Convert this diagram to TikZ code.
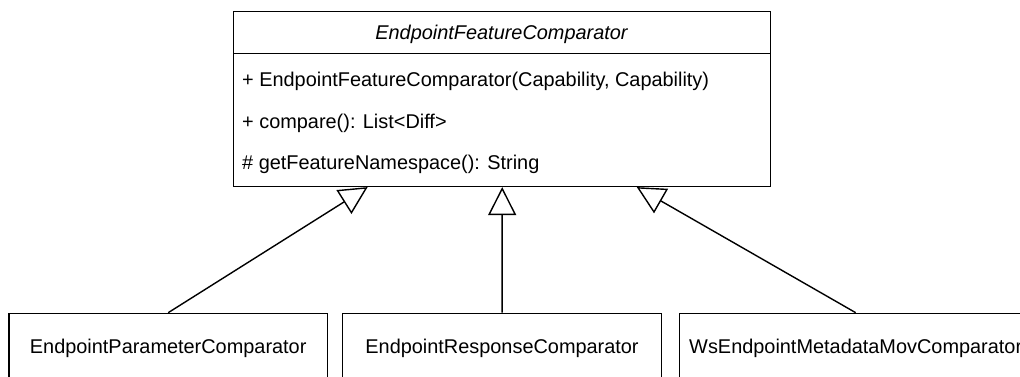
\documentclass[tikz,border=0pt]{standalone}
\usepackage{fontspec}
\setmainfont{Liberation Sans}
\usetikzlibrary{arrows.meta,calc}
\begin{document}
\begin{tikzpicture}[x=1pt,y=-1pt,
  box/.style={draw=black,line width=1.4pt,fill=white,inner sep=0pt,anchor=north west},
  txt/.style={font=\fontsize{19.9}{23}\selectfont,inner sep=0pt},
  inherit/.style={draw=black,line width=1.4pt,-{Triangle[length=28pt,width=28pt,fill=white,line width=1.4pt]}}
]
\useasboundingbox (0,0) rectangle (1020,377);
\clip (0,0) rectangle (1020,377);
\fill[white] (0,0) rectangle (1020,377);
% parent class
\node[box,minimum width=537pt,minimum height=175pt] (parent) at (233,10.7) {};
\draw[line width=1.4pt] (233,53.3) -- (770,53.3);
\node[txt,anchor=base,font=\fontsize{19.9}{23}\selectfont\itshape] (ptitle) at (501.5,40) {EndpointFeatureComparator};
\node[txt,anchor=base west] (m1) at (242,87) {+ EndpointFeatureComparator(Capability, Capability)};
\node[txt,anchor=base west] (m2) at (242,128.5) {+ compare(): List<Diff>};
\node[txt,anchor=base west] (m3) at (242,169) {\# getFeatureNamespace(): String};
% children
\node[box,minimum width=318.4pt,minimum height=100pt] (c1) at (8.3,312.7) {};
\node[box,minimum width=319.3pt,minimum height=100pt] (c2) at (341.7,312.7) {};
\node[box,minimum width=352pt,minimum height=100pt] (c3) at (679,312.7) {};
\node[txt,anchor=base] (t1) at ($(c1.north)+(0,41)$) {EndpointParameterComparator};
\node[txt,anchor=base] (t2) at ($(c2.north)+(0,41)$) {EndpointResponseComparator};
\node[txt,anchor=base] (t3) at ($(c3.north)+(0,41)$) {WsEndpointMetadataMovComparator};
% targets on parent bottom
\coordinate (pL) at ($(parent.south west)!0.25!(parent.south east)$);
\coordinate (pM) at (parent.south);
\coordinate (pR) at ($(parent.south west)!0.75!(parent.south east)$);
\draw[inherit] (c1.north) -- (pL);
\draw[inherit] (c2.north) -- (pM);
\draw[inherit] (c3.north) -- (pR);
\end{tikzpicture}
\end{document}
